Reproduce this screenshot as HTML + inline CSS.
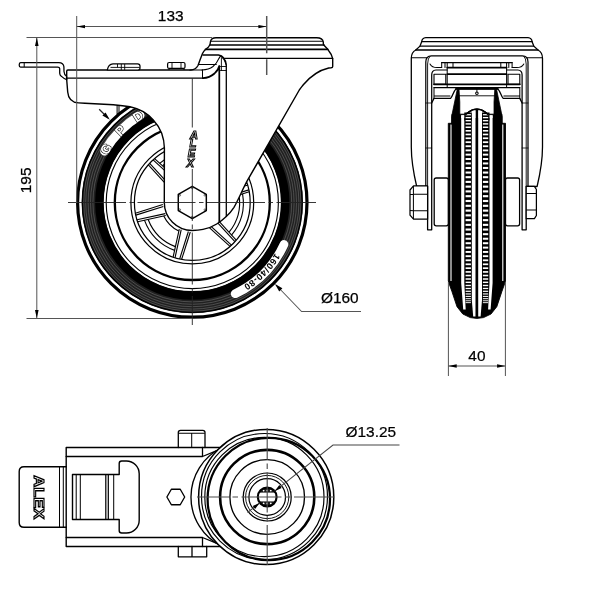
<!DOCTYPE html>
<html><head><meta charset="utf-8"><title>Caster drawing</title>
<style>
html,body{margin:0;padding:0;background:#fff;}
svg{display:block;}
text{font-family:"Liberation Sans",sans-serif;}
svg{will-change:transform;filter:grayscale(1);}
</style></head>
<body>
<svg width="600" height="610" viewBox="0 0 600 610">
<rect x="0" y="0" width="600" height="610" fill="#fff"/>
<!-- SIDE VIEW -->
<g id="wheel" fill="none" stroke="#000">
<circle cx="192.3" cy="202.5" r="116.3" fill="#fff" stroke="none"/>
<circle cx="192.3" cy="202.5" r="114.7" stroke-width="3.20"/>
<circle cx="192.3" cy="202.5" r="99.8" stroke="#202020" stroke-width="21.80"/>
<circle cx="192.3" cy="202.5" r="92.9" stroke="#000" stroke-width="8.60"/>
<circle cx="192.3" cy="202.5" r="109.8" stroke="#000" stroke-width="1.46"/>
<circle cx="192.3" cy="202.5" r="99.4" stroke="#7a7a7a" stroke-width="0.5"/>
<circle cx="192.3" cy="202.5" r="101.8" stroke="#7a7a7a" stroke-width="0.5"/>
<circle cx="192.3" cy="202.5" r="104.2" stroke="#7a7a7a" stroke-width="0.5"/>
<circle cx="192.3" cy="202.5" r="106.6" stroke="#7a7a7a" stroke-width="0.5"/>
<circle cx="192.3" cy="202.5" r="108.6" stroke="#7a7a7a" stroke-width="0.5"/>
<circle cx="192.3" cy="202.5" r="86.1" stroke-width="1.12"/>
<circle cx="192.3" cy="202.5" r="77.5" stroke-width="2.35"/>
<circle cx="192.3" cy="202.5" r="61.4" stroke-width="1.23"/>
<circle cx="192.3" cy="202.5" r="57.9" stroke-width="1.23"/>
<path d="M221.79,200.5 L249.2,191.81" stroke-width="1.12"/>
<path d="M221.27,198.57 L248.8,189.85" stroke-width="1.12"/>
<path d="M218.84,189.49 L246.93,183.31" stroke-width="1.12"/>
<path d="M219.35,191.42 L247.56,185.21" stroke-width="1.12"/>
<path d="M205.31,175.96 L211.49,147.87" stroke-width="1.12"/>
<path d="M203.38,175.45 L209.59,147.24" stroke-width="1.12"/>
<path d="M194.3,173.01 L202.99,145.6" stroke-width="1.12"/>
<path d="M196.23,173.53 L204.95,146" stroke-width="1.12"/>
<path d="M175.82,177.96 L154.59,158.57" stroke-width="1.12"/>
<path d="M174.41,179.38 L153.09,159.9" stroke-width="1.12"/>
<path d="M167.76,186.02 L148.37,164.79" stroke-width="1.12"/>
<path d="M169.18,184.61 L149.7,163.29" stroke-width="1.12"/>
<path d="M162.81,204.5 L135.4,213.19" stroke-width="1.12"/>
<path d="M163.33,206.43 L135.8,215.15" stroke-width="1.12"/>
<path d="M165.76,215.51 L137.67,221.69" stroke-width="1.12"/>
<path d="M165.25,213.58 L137.04,219.79" stroke-width="1.12"/>
<path d="M179.29,229.04 L173.11,257.13" stroke-width="1.12"/>
<path d="M181.22,229.55 L175.01,257.76" stroke-width="1.12"/>
<path d="M190.3,231.99 L181.61,259.4" stroke-width="1.12"/>
<path d="M188.37,231.47 L179.65,259" stroke-width="1.12"/>
<path d="M208.78,227.04 L230.01,246.43" stroke-width="1.12"/>
<path d="M210.19,225.62 L231.51,245.1" stroke-width="1.12"/>
<path d="M216.84,218.98 L236.23,240.21" stroke-width="1.12"/>
<path d="M215.42,220.39 L234.9,241.71" stroke-width="1.12"/>
<path d="M201,152.25 A51,51 0 0 0 159.64,163.33" stroke-width="1.12"/>
<path d="M199.64,155.77 A47.3,47.3 0 0 0 162.58,165.71" stroke-width="1.12"/>
<path d="M194.84,171 A31.6,31.6 0 0 0 174.35,176.49" stroke-width="1.12"/>
<path d="M144.43,220.09 A51,51 0 0 0 174.71,250.37" stroke-width="1.12"/>
<path d="M148.16,219.5 A47.3,47.3 0 0 0 175.3,246.64" stroke-width="1.12"/>
<path d="M163.75,216.05 A31.6,31.6 0 0 0 178.75,231.05" stroke-width="1.12"/>
<path d="M231.47,235.16 A51,51 0 0 0 242.55,193.8" stroke-width="1.12"/>
<path d="M229.09,232.22 A47.3,47.3 0 0 0 239.03,195.16" stroke-width="1.12"/>
<path d="M218.31,220.45 A31.6,31.6 0 0 0 223.8,199.96" stroke-width="1.12"/>
</g>
<path d="M283.95,244.46 A100.8,100.8 0 0 1 235.22,293.71" fill="none" stroke="#fff" stroke-width="8.8" stroke-linecap="round"/>
<path id="lblp" d="M283.64,235.74 A97.2,97.2 0 0 1 225.54,293.84" fill="none"/>
<text font-size="9" font-weight="bold" fill="#000" letter-spacing="0.62" text-anchor="middle"><textPath href="#lblp" startOffset="50%">160/40-80</textPath></text>
<path d="M104.67,151.09 A101.6,101.6 0 0 1 139.97,115.41" fill="none" stroke="#fff" stroke-width="9" stroke-linecap="round"/>
<text x="109.78" y="151.33" font-size="13.2" font-weight="bold" fill="#fff" stroke="#000" stroke-width="1.15" paint-order="stroke" text-anchor="middle" transform="rotate(-58.2 109.78 151.33)">G</text>
<text x="123.64" y="133.84" font-size="13.2" font-weight="bold" fill="#fff" stroke="#000" stroke-width="1.15" paint-order="stroke" text-anchor="middle" transform="rotate(-45 123.64 133.84)">P</text>
<text x="140.56" y="120.33" font-size="13.2" font-weight="bold" fill="#fff" stroke="#000" stroke-width="1.15" paint-order="stroke" text-anchor="middle" transform="rotate(-32.2 140.56 120.33)">D</text>
<path d="M66.7,71.2 Q66.7,70 67.9,70 L191,70 C194.5,69.8 196.6,68 198,65.5 L200,60 L202.5,53.5 C203.5,51.5 204.3,50.4 205.5,49.5 L208.5,47 L210,44.5 L210.5,41.5 Q211.3,37.7 216,37.7 L316.7,37.8 Q322.6,37.9 323.3,42 L323.3,44 L324,45.3 L327.3,48.7 L328.7,50.7 Q331.6,54 332.7,58.7 L332.7,66.4 Q332.7,67.6 331,67.8 L328.7,68 C321,69.8 311.5,75 303.3,84.7 C301.2,87.4 300.2,88.6 299.3,90 L247.3,180.7 C243,188.5 238,200.5 234,207.3 C231,212 229,214 226,216.7 C223,219.5 220.5,221.6 216.7,224 C212,227 207,228.6 203,229.4 C199,230.3 196,230.5 192.3,230.5 A28,28 0 0 1 164.3,202.5 L164.4,148 C164.3,142 163.2,137.5 161.7,133.3 C159.7,128 157,124 153.3,120 C150.3,116.8 147.3,114 143.3,111.7 C139,109.2 135,107.6 130,106.7 C124,105.7 119,105.2 113.3,104.7 L85,103.3 L78.5,102.9 C72.3,102.5 68.3,99.3 67.7,92 L66.7,79.7 Z" fill="#fff" stroke="#000" stroke-width="1.40" stroke-linejoin="round"/>
<g fill="none" stroke="#000" stroke-width="1.29" stroke-linecap="round" stroke-linejoin="round">
<path d="M66.7,78.2 L203,78.2"/>
<path d="M202.5,70 L202.5,78.2" stroke-width="1.01"/>
<path d="M211.2,41.3 L322.6,41.3" stroke-width="1.12"/>
<path d="M210,45 L324,45" stroke-width="1.34"/>
<path d="M205.5,49.4 L327.6,49.4" stroke-width="1.79"/>
<path d="M224.3,58.3 L332.7,58.3" stroke-width="1.34"/>
<path d="M190,70 L202.5,70" stroke-width="1.23"/>
<path d="M203,55 L218.5,55 C222.5,55.6 225.6,59.5 226.3,65 L226.3,216.4"/>
<path d="M203,78.2 C207,78 211,76.6 214.5,73.5 C217,71 218.8,68.5 219.3,66 L219.3,222" stroke-width="1.74"/>
<path d="M221.4,58 L221.4,70.5" stroke-width="0.90"/>
<path d="M202,70 C207,69.8 210,68.8 213,66.5 C216,64 217.8,61 218.8,58.6 L220.5,56" stroke-width="1.12"/>
<path d="M220.5,56 C223,57.5 225,60.5 226.2,65" stroke-width="1.01"/>
<path d="M198.5,64.5 L216.3,64.5" stroke-width="1.01"/>
<path d="M220.5,66.5 L226.3,66.5 M220.5,70.5 L226.3,70.5" stroke-width="0.90"/>
</g>
<path d="M20.6,62.7 L58.8,62.7 C61.8,62.8 63.6,64.2 63.9,66.8 L64,71.5 C64.2,74 65,75.4 66.5,76.2 L66.7,79.7 C64.5,79 62.8,77.6 61.5,76.4 C60.2,75.4 59.7,74.4 59.7,73.2 L59.7,68.6 C59.6,67.5 59,67.1 57.8,67.1 L20.6,67.1 Q19.2,67 19.2,64.9 Q19.2,62.8 20.6,62.7 Z" fill="#fff" stroke="#000" stroke-width="1.29" stroke-linejoin="round"/>
<path d="M24.2,62.7 L24.2,67.1" stroke="#000" stroke-width="1.01"/>
<path d="M107.3,70 C108,66 109.6,63.9 113,63.8 L137.6,63.8 Q140,63.9 140,66 L140,68 Q140,70 138,70 Z" fill="#fff" stroke="#000" stroke-width="1.23" stroke-linejoin="round"/>
<path d="M110.5,67.4 L139.8,67.4 M117.5,64 L117.5,67.4 M121.3,64 L121.3,70 M124.7,64 L124.7,70" fill="none" stroke="#000" stroke-width="0.90"/>
<path d="M169,70 L169,68.4 L184,68.4 L184,70" fill="none" stroke="#000" stroke-width="1.01"/>
<path d="M167.6,64 Q167.6,62.5 169.2,62.5 L183.4,62.5 Q185,62.5 185,64 L185,66.9 Q185,68.4 183.4,68.4 L169.2,68.4 Q167.6,68.4 167.6,66.9 Z" fill="#fff" stroke="#000" stroke-width="1.23"/>
<path d="M172,62.6 L172,68.3 M181,62.6 L181,68.3" stroke="#000" stroke-width="0.90"/>
<path d="M117.1,105.4 L117.1,114.6 M119,105.6 L119,113 M117.1,114.6 L119,113" fill="none" stroke="#000" stroke-width="1.01"/>
<path d="M192.3,186.3 L178.27,194.4 L178.27,210.6 L192.3,218.7 L206.33,210.6 L206.33,194.4 Z" fill="#fff" stroke="#000" stroke-width="1.46" stroke-linejoin="round"/>
<circle cx="192.3" cy="187.92" r="0.9" fill="none" stroke="#000" stroke-width="0.56"/>
<circle cx="179.67" cy="195.21" r="0.9" fill="none" stroke="#000" stroke-width="0.56"/>
<circle cx="179.67" cy="209.79" r="0.9" fill="none" stroke="#000" stroke-width="0.56"/>
<circle cx="192.3" cy="217.08" r="0.9" fill="none" stroke="#000" stroke-width="0.56"/>
<circle cx="204.93" cy="209.79" r="0.9" fill="none" stroke="#000" stroke-width="0.56"/>
<circle cx="204.93" cy="195.21" r="0.9" fill="none" stroke="#000" stroke-width="0.56"/>
<text x="193.9" y="138.5" font-size="11.4" font-style="italic" font-weight="bold" text-anchor="middle" fill="#fff" stroke="#000" stroke-width="1.0">A</text>
<text x="192.9" y="147.3" font-size="11.4" font-style="italic" font-weight="bold" text-anchor="middle" fill="#fff" stroke="#000" stroke-width="1.0">L</text>
<text x="191.6" y="157.2" font-size="11.4" font-style="italic" font-weight="bold" text-anchor="middle" fill="#fff" stroke="#000" stroke-width="1.0">E</text>
<text x="190.3" y="167" font-size="11.4" font-style="italic" font-weight="bold" text-anchor="middle" fill="#fff" stroke="#000" stroke-width="1.0">X</text>
<g fill="none" stroke="#222" stroke-width="0.90">
<path d="M68,202.5 L316,202.5" stroke-dasharray="58 3.5 4.5 3.5"/>
<path d="M192.3,78.2 L192.3,127.5"/>
<path d="M192.3,169 L192.3,325" stroke-dasharray="52 3.5 4.5 3.5"/>
<path d="M266.7,16 L266.7,53.3 M266.7,59.2 L266.7,75" stroke="#555" stroke-width="1.46"/>
</g>
<g fill="none" stroke="#555" stroke-width="1.01">
<path d="M76.7,16 L76.7,203"/>
<path d="M76.7,26.6 L266.7,26.6"/>
<path d="M26.5,37.6 L212,37.6"/>
<path d="M36.8,37.6 L36.8,318.3"/>
<path d="M26.5,318.4 L192.3,318.4"/>
<path d="M276,285 L301.6,311.6 L361,311.6"/>
<path d="M99.2,109.2 L108,118" stroke="#222" stroke-width="1.23"/>
</g>
<g fill="#000" stroke="none">
<path d="M76.7,26.6 L85,24.9 L85,28.3 Z"/>
<path d="M266.7,26.6 L258.4,24.9 L258.4,28.3 Z"/>
<path d="M36.8,37.6 L35,46 L38.6,46 Z"/>
<path d="M36.8,318.3 L35,309.9 L38.6,309.9 Z"/>
<path d="M275,284 L279.2,291.4 L282.4,288.2 Z"/>
<path d="M109.8,119.8 L102.4,115.6 L105.6,112.4 Z"/>
</g>
<g font-size="15.4" fill="#000" stroke="#000" stroke-width="0.25">
<text x="170.7" y="21.4" text-anchor="middle">133</text>
<text x="0" y="0" transform="translate(31.4,180.4) rotate(-90)" text-anchor="middle">195</text>
<text x="321" y="303.2">Ø160</text>
</g>
<!-- FRONT VIEW -->
<path d="M448.3,123.3 L448.3,281 L449.6,285 L452,291.7 L457,306.7 L462.8,314 L470.3,317.6 L476.9,318.4 L483.5,317.6 L491,314 L496.8,306.7 L501.8,291.7 L504.2,285 L505.5,281 L505.5,123.3 L505.5,123.3 L501.8,123.3 L501.8,114.2 L488.6,114.2 Q476.9,103.3 465.2,114.2 L452,114.2 L452,123.3 Z" fill="#000" stroke="#000" stroke-width="0.90" stroke-linejoin="round"/>
<path d="M461.2,118 L461.2,115.2 L465.8,115.2 Q476.9,105.2 488,115.2 L492.6,115.2 L492.6,118 Z" fill="#fff"/>
<path d="M461.2,115.2 L464.3,115.2 L464.3,283 L465.7,309.5 L463.2,309.5 L461.2,283 Z" fill="#fff"/>
<path d="M471.8,110 L475.7,110 L475.7,316.6 L473.2,316.6 L471.8,300 Z" fill="#fff"/>
<path d="M492.6,115.2 L489.5,115.2 L489.5,283 L488.1,309.5 L490.6,309.5 L492.6,283 Z" fill="#fff"/>
<path d="M482,110 L478.1,110 L478.1,316.6 L480.6,316.6 L482,300 Z" fill="#fff"/>
<path d="M451,124.5 L451,281 M502.8,124.5 L502.8,281" stroke="#fff" stroke-width="1.1" fill="none"/>
<rect x="464.3" y="112.5" width="7.5" height="8" fill="#000"/>
<rect x="482" y="112.5" width="7.5" height="8" fill="#000"/>
<rect x="465.6" y="114.11" width="5.3" height="1.25" fill="#fff"/>
<rect x="482.9" y="114.11" width="5.3" height="1.25" fill="#fff"/>
<rect x="465.6" y="116.96" width="5.3" height="1.33" fill="#fff"/>
<rect x="482.9" y="116.96" width="5.3" height="1.33" fill="#fff"/>
<rect x="465.6" y="119.98" width="5.3" height="1.4" fill="#fff"/>
<rect x="482.9" y="119.98" width="5.3" height="1.4" fill="#fff"/>
<rect x="465.6" y="123.16" width="5.3" height="1.47" fill="#fff"/>
<rect x="482.9" y="123.16" width="5.3" height="1.47" fill="#fff"/>
<rect x="465.6" y="126.5" width="5.3" height="1.54" fill="#fff"/>
<rect x="482.9" y="126.5" width="5.3" height="1.54" fill="#fff"/>
<rect x="465.6" y="129.99" width="5.3" height="1.61" fill="#fff"/>
<rect x="482.9" y="129.99" width="5.3" height="1.61" fill="#fff"/>
<rect x="465.6" y="133.63" width="5.3" height="1.67" fill="#fff"/>
<rect x="482.9" y="133.63" width="5.3" height="1.67" fill="#fff"/>
<rect x="465.6" y="137.39" width="5.3" height="1.73" fill="#fff"/>
<rect x="482.9" y="137.39" width="5.3" height="1.73" fill="#fff"/>
<rect x="465.6" y="141.29" width="5.3" height="1.78" fill="#fff"/>
<rect x="482.9" y="141.29" width="5.3" height="1.78" fill="#fff"/>
<rect x="465.6" y="145.31" width="5.3" height="1.84" fill="#fff"/>
<rect x="482.9" y="145.31" width="5.3" height="1.84" fill="#fff"/>
<rect x="465.6" y="149.45" width="5.3" height="1.88" fill="#fff"/>
<rect x="482.9" y="149.45" width="5.3" height="1.88" fill="#fff"/>
<rect x="465.6" y="153.68" width="5.3" height="1.93" fill="#fff"/>
<rect x="482.9" y="153.68" width="5.3" height="1.93" fill="#fff"/>
<rect x="465.6" y="158.02" width="5.3" height="1.97" fill="#fff"/>
<rect x="482.9" y="158.02" width="5.3" height="1.97" fill="#fff"/>
<rect x="465.6" y="162.44" width="5.3" height="2" fill="#fff"/>
<rect x="482.9" y="162.44" width="5.3" height="2" fill="#fff"/>
<rect x="465.6" y="166.94" width="5.3" height="2.04" fill="#fff"/>
<rect x="482.9" y="166.94" width="5.3" height="2.04" fill="#fff"/>
<rect x="465.6" y="171.52" width="5.3" height="2.07" fill="#fff"/>
<rect x="482.9" y="171.52" width="5.3" height="2.07" fill="#fff"/>
<rect x="465.6" y="176.15" width="5.3" height="2.09" fill="#fff"/>
<rect x="482.9" y="176.15" width="5.3" height="2.09" fill="#fff"/>
<rect x="465.6" y="180.84" width="5.3" height="2.11" fill="#fff"/>
<rect x="482.9" y="180.84" width="5.3" height="2.11" fill="#fff"/>
<rect x="465.6" y="185.57" width="5.3" height="2.13" fill="#fff"/>
<rect x="482.9" y="185.57" width="5.3" height="2.13" fill="#fff"/>
<rect x="465.6" y="190.33" width="5.3" height="2.14" fill="#fff"/>
<rect x="482.9" y="190.33" width="5.3" height="2.14" fill="#fff"/>
<rect x="465.6" y="195.12" width="5.3" height="2.15" fill="#fff"/>
<rect x="482.9" y="195.12" width="5.3" height="2.15" fill="#fff"/>
<rect x="465.6" y="199.92" width="5.3" height="2.15" fill="#fff"/>
<rect x="482.9" y="199.92" width="5.3" height="2.15" fill="#fff"/>
<rect x="465.6" y="204.72" width="5.3" height="2.15" fill="#fff"/>
<rect x="482.9" y="204.72" width="5.3" height="2.15" fill="#fff"/>
<rect x="465.6" y="209.53" width="5.3" height="2.14" fill="#fff"/>
<rect x="482.9" y="209.53" width="5.3" height="2.14" fill="#fff"/>
<rect x="465.6" y="214.31" width="5.3" height="2.13" fill="#fff"/>
<rect x="482.9" y="214.31" width="5.3" height="2.13" fill="#fff"/>
<rect x="465.6" y="219.08" width="5.3" height="2.12" fill="#fff"/>
<rect x="482.9" y="219.08" width="5.3" height="2.12" fill="#fff"/>
<rect x="465.6" y="223.81" width="5.3" height="2.1" fill="#fff"/>
<rect x="482.9" y="223.81" width="5.3" height="2.1" fill="#fff"/>
<rect x="465.6" y="228.5" width="5.3" height="2.08" fill="#fff"/>
<rect x="482.9" y="228.5" width="5.3" height="2.08" fill="#fff"/>
<rect x="465.6" y="233.14" width="5.3" height="2.06" fill="#fff"/>
<rect x="482.9" y="233.14" width="5.3" height="2.06" fill="#fff"/>
<rect x="465.6" y="237.72" width="5.3" height="2.03" fill="#fff"/>
<rect x="482.9" y="237.72" width="5.3" height="2.03" fill="#fff"/>
<rect x="465.6" y="242.22" width="5.3" height="1.99" fill="#fff"/>
<rect x="482.9" y="242.22" width="5.3" height="1.99" fill="#fff"/>
<rect x="465.6" y="246.65" width="5.3" height="1.95" fill="#fff"/>
<rect x="482.9" y="246.65" width="5.3" height="1.95" fill="#fff"/>
<rect x="465.6" y="250.99" width="5.3" height="1.91" fill="#fff"/>
<rect x="482.9" y="250.99" width="5.3" height="1.91" fill="#fff"/>
<rect x="465.6" y="255.24" width="5.3" height="1.87" fill="#fff"/>
<rect x="482.9" y="255.24" width="5.3" height="1.87" fill="#fff"/>
<rect x="465.6" y="259.38" width="5.3" height="1.82" fill="#fff"/>
<rect x="482.9" y="259.38" width="5.3" height="1.82" fill="#fff"/>
<rect x="465.6" y="263.41" width="5.3" height="1.76" fill="#fff"/>
<rect x="482.9" y="263.41" width="5.3" height="1.76" fill="#fff"/>
<rect x="465.6" y="267.32" width="5.3" height="1.71" fill="#fff"/>
<rect x="482.9" y="267.32" width="5.3" height="1.71" fill="#fff"/>
<rect x="465.6" y="271.1" width="5.3" height="1.65" fill="#fff"/>
<rect x="482.9" y="271.1" width="5.3" height="1.65" fill="#fff"/>
<rect x="465.6" y="274.74" width="5.3" height="1.58" fill="#fff"/>
<rect x="482.9" y="274.74" width="5.3" height="1.58" fill="#fff"/>
<rect x="465.6" y="278.24" width="5.3" height="1.52" fill="#fff"/>
<rect x="482.9" y="278.24" width="5.3" height="1.52" fill="#fff"/>
<rect x="465.6" y="281.59" width="5.3" height="1.45" fill="#fff"/>
<rect x="482.9" y="281.59" width="5.3" height="1.45" fill="#fff"/>
<rect x="465.6" y="284.79" width="5.3" height="1.38" fill="#fff"/>
<rect x="482.9" y="284.79" width="5.3" height="1.38" fill="#fff"/>
<rect x="465.6" y="287.82" width="5.3" height="1.3" fill="#fff"/>
<rect x="482.9" y="287.82" width="5.3" height="1.3" fill="#fff"/>
<rect x="465.6" y="290.68" width="5.3" height="1.22" fill="#fff"/>
<rect x="482.9" y="290.68" width="5.3" height="1.22" fill="#fff"/>
<rect x="465.6" y="293.37" width="5.3" height="1.14" fill="#fff"/>
<rect x="482.9" y="293.37" width="5.3" height="1.14" fill="#fff"/>
<rect x="465.6" y="295.87" width="5.3" height="1.06" fill="#fff"/>
<rect x="482.9" y="295.87" width="5.3" height="1.06" fill="#fff"/>
<rect x="465.6" y="298.2" width="5.3" height="0.98" fill="#fff"/>
<rect x="482.9" y="298.2" width="5.3" height="0.98" fill="#fff"/>
<rect x="465.6" y="300.33" width="5.3" height="0.9" fill="#fff"/>
<rect x="482.9" y="300.33" width="5.3" height="0.9" fill="#fff"/>
<rect x="465.6" y="302.22" width="5.3" height="0.9" fill="#fff"/>
<rect x="482.9" y="302.22" width="5.3" height="0.9" fill="#fff"/>
<path d="M465.4,115 Q476.9,103.6 488.4,115" fill="none" stroke="#000" stroke-width="1.34"/>
<rect x="475.7" y="109.5" width="2.4" height="208" fill="#000"/>
<g fill="#fff" stroke="#000" stroke-width="1.29" stroke-linejoin="round" stroke-linecap="round">
<path d="M457.2,89.5 L451.6,116.6 L451.6,124 L459.8,124 L459.8,102 L459,89.5 Z" fill="#000" stroke-width="0.78"/>
<path d="M496.6,89.5 L502.2,116.6 L502.2,124 L494,124 L494,102 L494.8,89.5 Z" fill="#000" stroke-width="0.78"/>
<rect x="434.2" y="178" width="14.1" height="47.8" rx="2" ry="2"/>
<rect x="505.5" y="178" width="14.1" height="47.8" rx="2" ry="2"/>
<path d="M425.8,37.6 L528,37.6 Q531.8,38 532.1,41.7 L533.8,46.1 L538,50 Q542.5,52 542.5,58.6 L542.5,147 C542.5,160 540.3,173 537.1,186.5 L526.2,186.5 L526.2,229.8 L522.1,229.8 L522.1,103 L519.8,98.4 L503.2,98.4 C501.3,96.5 500.8,92 497.8,88.9 L456,88.9 C453,92 452.5,96.5 450.6,98.4 L434,98.4 L431.7,103 L431.7,229.8 L427.6,229.8 L427.6,186.5 L416.7,186.5 C413.5,173 411.3,160 411.3,147 L411.3,58.6 Q411.3,52 415.8,50 L420,46.1 L421.7,41.7 Q422,38 425.8,37.6 Z"/>
</g>
<g fill="none" stroke="#000" stroke-width="1.23" stroke-linecap="round" stroke-linejoin="round">
<path d="M421.7,41.6 L532.1,41.6" stroke-width="1.12"/>
<path d="M420,46.1 L533.8,46.1" stroke-width="1.23"/>
<path d="M415.8,50 L538,50" stroke-width="1.51"/>
<path d="M411.3,57.8 L426.6,57.8 M542.5,57.8 L527.2,57.8" stroke-width="1.01"/>
<path d="M425.8,186 L425.8,62 Q425.8,55.8 431.5,55.8 L522.3,55.8 Q528,55.8 528,62 L528,186"/>
<path d="M427.6,186 L427.6,64 Q427.8,58 430,56.2" stroke-width="0.90"/>
<path d="M431.7,103 L431.7,75 Q431.7,70.2 436,70 L447,70" stroke-width="1.23"/>
<path d="M430,64 Q432,67.6 437,67.6 L441.7,67.6" stroke-width="1.01"/>
<path d="M434,74.2 L445.8,74.2 L445.8,84.2 L434,84.2 Z" stroke-width="1.12"/>
<path d="M434,87.5 L434,98.4 M434,96 L450,96" stroke-width="1.01"/>
<path d="M441.7,62.5 L441.7,67.5 M445,62.8 L445,67.5 M447.2,62.5 L447.2,87.5 M453,62.8 L453,67.5" stroke-width="1.01"/>
<path d="M425.8,103 L431.7,103 M425.8,148 L431.7,148" stroke-width="0.78"/>
<path d="M526.2,186 L526.2,64 Q526,58 523.8,56.2" stroke-width="0.90"/>
<path d="M522.1,103 L522.1,75 Q522.1,70.2 517.8,70 L506.8,70" stroke-width="1.23"/>
<path d="M523.8,64 Q521.8,67.6 516.8,67.6 L512.1,67.6" stroke-width="1.01"/>
<path d="M519.8,74.2 L508,74.2 L508,84.2 L519.8,84.2 Z" stroke-width="1.12"/>
<path d="M519.8,87.5 L519.8,98.4 M519.8,96 L503.8,96" stroke-width="1.01"/>
<path d="M512.1,62.5 L512.1,67.5 M508.8,62.8 L508.8,67.5 M506.6,62.5 L506.6,87.5 M500.8,62.8 L500.8,67.5" stroke-width="1.01"/>
<path d="M528,103 L522.1,103 M528,148 L522.1,148" stroke-width="0.78"/>
<path d="M441.7,62.6 L512.1,62.6" stroke-width="1.34"/>
<path d="M447.2,67.6 L506.6,67.6" stroke-width="1.68"/>
<path d="M447.2,74.2 L506.6,74.2" stroke-width="1.68"/>
<path d="M434,84.3 L519.8,84.3" stroke-width="1.79"/>
<path d="M434,87.6 L519.8,87.6" stroke-width="1.23"/>
<path d="M456,88.9 L497.8,88.9" stroke-width="1.68"/>
<path d="M459,95.8 L494.8,95.8" stroke-width="0.90"/>
<circle cx="476.9" cy="93.2" r="1.3" stroke-width="1.01"/>
<path d="M476.9,89 L476.9,92" stroke-width="0.90"/>
</g>
<g fill="#fff" stroke="#000" stroke-width="1.23" stroke-linejoin="round">
<path d="M413.5,185.9 L427.6,185.9 L427.6,219.2 L413.5,219.2 L410,215.2 L410,190 Z"/>
<path d="M413.4,186 L413.4,219 M413.4,194.2 L427.6,194.2 M413.4,210.8 L427.6,210.8 M410,194.5 L413.4,194.2 M410,210.5 L413.4,210.8" fill="none" stroke-width="1.01"/>
<path d="M526.2,186.3 L534.4,186.3 L536.4,189.5 L536.4,215.5 L534.4,218.7 L526.2,218.7 Z"/>
<path d="M526.2,193.4 L536.4,193.4 M526.2,210.1 L536.4,210.1" fill="none" stroke-width="1.01"/>
</g>
<g fill="none" stroke="#555" stroke-width="1.01">
<path d="M448.4,282 L448.4,376 M505.4,282 L505.4,376 M448.4,366 L505.4,366"/>
</g>
<path d="M448.4,366 L456.7,364.3 L456.7,367.7 Z M505.4,366 L497.1,364.3 L497.1,367.7 Z" fill="#000"/>
<text x="476.9" y="360.8" font-size="15.4" text-anchor="middle" fill="#000" stroke="#000" stroke-width="0.22">40</text>
<!-- TOP VIEW -->
<g fill="none" stroke="#000" stroke-width="1.29" stroke-linejoin="round" stroke-linecap="round">
<path d="M222,447.5 L66.2,447.5 L66.2,546.5 L222,546.5" stroke-width="1.40"/>
<path d="M66.2,456.5 L202.5,456.5 L202.5,447.5 M202.5,456.5 L218.6,449.8"/>
<path d="M66.2,537.5 L202.5,537.5 L202.5,546.5 M202.5,537.5 L218.6,544.2"/>
<path d="M222,447.5 A55,55 0 0 0 222,546.5" stroke-width="1.34"/>
<path d="M66.2,466.7 L24,466.7 Q19.2,466.7 19.2,471.5 L19.2,522.5 Q19.2,527.3 24,527.3 L66.2,527.3" stroke-width="1.40"/>
<path d="M59.5,466.7 L59.5,527.3 M63.3,466.7 L63.3,527.3" stroke-width="1.01"/>
<path d="M119.2,474.5 L72.5,474.5 L72.5,519.5 L119.2,519.5 L119.2,530.5 Q119.2,533 121.7,533 L126.4,533 A12.8,12.8 0 0 0 139.2,520.2 L139.2,473.8 A12.8,12.8 0 0 0 126.4,461 L121.7,461 Q119.2,461 119.2,463.5 Z" stroke-width="1.40"/>
<path d="M76.2,474.5 L76.2,519.5 M80.3,474.5 L80.3,519.5" stroke-width="1.01"/>
<path d="M105.8,474.5 L105.8,519.5 M108.3,474.5 L108.3,519.5" stroke-width="1.23"/>
<path d="M113.7,474.5 L113.7,519.5" stroke-width="1.01"/>
<path d="M184.7,497 L180.25,504.71 L171.35,504.71 L166.9,497 L171.35,489.29 L180.25,489.29 Z" stroke-width="1.34"/>
<path d="M178.3,447.5 L178.3,432.5 Q178.3,430.3 180.5,430.3 L202.8,430.3 Q205,430.3 205,432.5 L205,447.5"/>
<path d="M179,433.3 L204.4,433.3 M191.7,433.3 L191.7,447.5" stroke-width="1.01"/>
<path d="M178.3,546.5 L178.3,556.8 L206.7,556.8 L206.7,546.5 M192,546.5 L192,556.8"/>
</g>
<g fill="none" stroke="#000">
<circle cx="266.2" cy="497.0" r="67.6" fill="#fff" stroke-width="1.51"/>
<circle cx="264.5" cy="496.5" r="63" stroke-width="1.18"/>
<circle cx="268.8" cy="499.0" r="61.2" stroke-width="2.24"/>
<circle cx="264.4" cy="497.0" r="59.6" stroke-width="1.18"/>
<circle cx="267.2" cy="497.0" r="47.1" stroke-width="2.58"/>
<circle cx="267.2" cy="497.0" r="37.3" stroke-width="1.34"/>
<circle cx="267.2" cy="497.0" r="24" stroke-width="1.23"/>
<circle cx="267.2" cy="497.0" r="21.6" stroke-width="0.90"/>
<circle cx="267.2" cy="497.0" r="18.3" stroke-width="1.23"/>
<clipPath id="hc"><circle cx="267.2" cy="497.0" r="9.4"/></clipPath>
<g clip-path="url(#hc)" stroke="none"><rect x="256" y="486" width="23" height="6.6" fill="#1a1a1a"/><rect x="256" y="501.4" width="23" height="6.6" fill="#1a1a1a"/>
<circle cx="263.6" cy="490.6" r="0.9" fill="#fff"/><circle cx="263.6" cy="503.4" r="0.9" fill="#fff"/>
<circle cx="267.2" cy="490.6" r="0.9" fill="#fff"/><circle cx="267.2" cy="503.4" r="0.9" fill="#fff"/>
<circle cx="270.8" cy="490.6" r="0.9" fill="#fff"/><circle cx="270.8" cy="503.4" r="0.9" fill="#fff"/>
</g>
<circle cx="267.2" cy="497.0" r="9.4" stroke-width="2.13"/>
</g>
<g fill="none" stroke="#4a4a4a" stroke-width="1.12">
<path d="M197,497.0 L337.5,497.0" stroke-dasharray="40 3.5 5.5 3.5" stroke-dashoffset="8"/>
<path d="M267.2,428 L267.2,568.5" stroke-dasharray="40 3.5 5.5 3.5" stroke-dashoffset="8"/>
</g>
<g fill="none" stroke="#444" stroke-width="1.01">
<path d="M399.5,445 L333,445 L274.6,491.2 M259.8,502.8 L247.5,512.5"/>
</g>
<path d="M274.6,491.2 L279.3,485.06 L281.66,488.04 Z M259.8,502.8 L255.1,508.94 L252.74,505.96 Z" fill="#000"/>
<text x="345.6" y="437.4" font-size="15.4" fill="#000" stroke="#000" stroke-width="0.22">Ø13.25</text>
<text x="0" y="0" transform="translate(33.6,475.3) rotate(90)" font-size="14" font-weight="bold" fill="#fff" stroke="#000" stroke-width="1.15" textLength="44" lengthAdjust="spacingAndGlyphs">ALEX</text>
</svg>
</body></html>
